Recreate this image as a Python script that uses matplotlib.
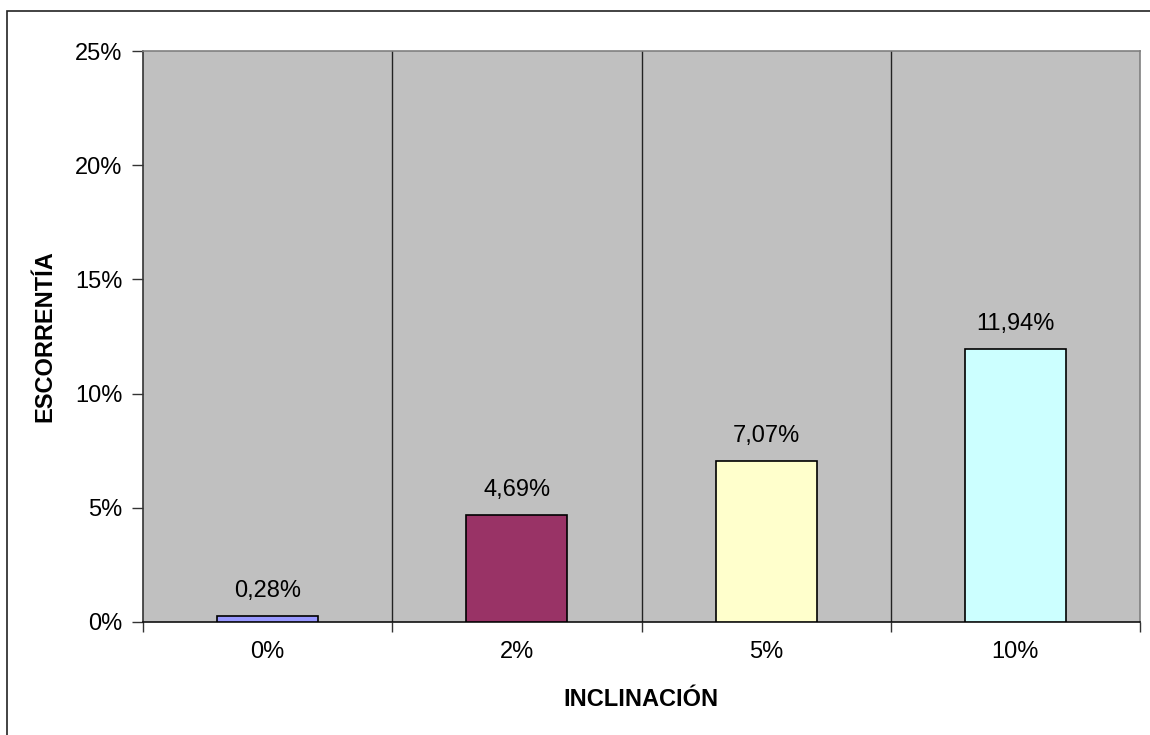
import matplotlib.pyplot as plt
from matplotlib.patches import Rectangle
from matplotlib.ticker import FuncFormatter, FixedLocator

plt.rcParams['font.family'] = ['Liberation Sans', 'DejaVu Sans']

# data
inclinacion = ['0%', '2%', '5%', '10%']
escorrentia = [0.28, 4.69, 7.07, 11.94]
colores = ['#9999FF', '#993366', '#FFFFCC', '#CCFFFF']

fs = 17

fig = plt.figure(figsize=(11.5, 7.35), dpi=100)
ax = fig.add_axes([143/1150, 1 - 622/735, (1140 - 143)/1150, (622 - 51)/735])

# outer chart border
fig.patches.append(Rectangle((7/1150, -0.05), 1.0, 1 - 11/735 + 0.05,
                             transform=fig.transFigure, fill=False,
                             edgecolor='#222222', linewidth=1.2))

x = range(len(inclinacion))
ax.bar(x, escorrentia, width=0.405, color=colores, edgecolor='black', linewidth=1.2, zorder=3)

for i, v in enumerate(escorrentia):
    ax.annotate(f'{v:.2f}%'.replace('.', ','), (i, v), xytext=(0, 10),
                textcoords='offset points', ha='center', va='bottom', fontsize=fs)

ax.set_facecolor('#C0C0C0')
ax.set_xlim(-0.5, len(inclinacion) - 0.5)
ax.set_ylim(0, 25)
ax.set_yticks([0, 5, 10, 15, 20, 25])
ax.yaxis.set_major_formatter(FuncFormatter(lambda v, p: f'{v:.0f}%'))

# category labels centred, ticks at boundaries
ax.set_xticks(list(x))
ax.set_xticklabels(inclinacion, fontsize=fs)
ax.tick_params(axis='x', length=0, pad=14)
ax.xaxis.set_minor_locator(FixedLocator([-0.5, 0.5, 1.5, 2.5, 3.5]))
ax.tick_params(axis='x', which='minor', length=7, width=1, color='#333333')
ax.tick_params(axis='y', length=8, width=1, color='#333333', labelsize=fs, pad=7)

for b in [0.5, 1.5, 2.5]:
    ax.axvline(b, color='#222222', linewidth=1, zorder=1)

ax.spines['top'].set_color('#808080')
ax.spines['right'].set_color('#808080')
ax.spines['left'].set_color('#333333')
ax.spines['bottom'].set_color('#111111')
for s in ax.spines.values():
    s.set_linewidth(1.2)

ax.set_xlabel('INCLINACIÓN', fontsize=fs, fontweight='bold', va='center')
ax.set_ylabel('ESCORRENTÍA', fontsize=fs, fontweight='bold', va='center')
ax.xaxis.set_label_coords(0.4995, -0.1366)
ax.yaxis.set_label_coords(-0.0983, 0.5)

fig.savefig('out.png', dpi=100)
